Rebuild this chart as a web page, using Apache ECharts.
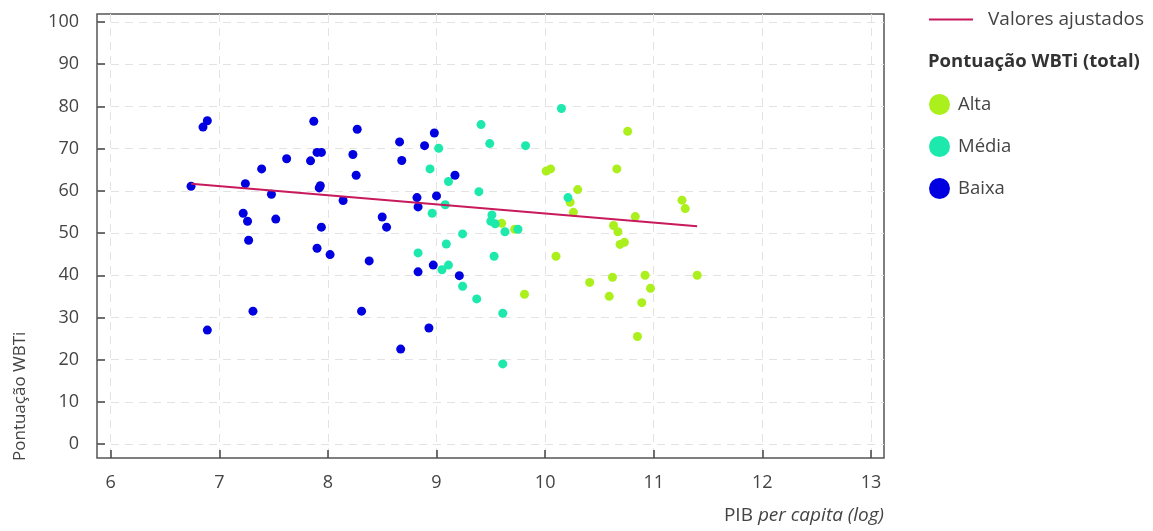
<!DOCTYPE html>
<html>
<head>
<meta charset="utf-8">
<title>Pontuação WBTi vs PIB per capita</title>
<script src="https://cdn.jsdelivr.net/npm/echarts@6/dist/echarts.min.js"></script>
<style>
  html, body { margin: 0; padding: 0; background: #fff; }
  #main { width: 1153px; height: 531px; }
</style>
</head>
<body>
<div id="main"></div>
<script type="text/javascript">
// eixos
var xTicks = [6, 7, 8, 9, 10, 11, 12, 13];
var yTicks = [0, 10, 20, 30, 40, 50, 60, 70, 80, 90, 100];

// pontos [PIB per capita (log), pontuação]
var alta = [
    [10.01, 64.7], [10.05, 65.2], [9.60, 52.3], [9.72, 50.9], [10.10, 44.5], [9.81, 35.5],
    [10.76, 74.1], [10.66, 65.2], [10.30, 60.3], [10.23, 57.3], [11.26, 57.8], [11.29, 55.8],
    [10.26, 54.9], [10.83, 53.9], [10.63, 51.8], [10.67, 50.3], [10.69, 47.3], [10.73, 47.8],
    [10.41, 38.3], [10.62, 39.5], [10.92, 40.0], [11.40, 40.0], [10.97, 36.9], [10.59, 35.0],
    [10.89, 33.5], [10.85, 25.5]
];
var media = [
    [9.41, 75.7], [9.02, 70.1], [9.49, 71.2], [9.82, 70.7], [10.15, 79.5], [8.94, 65.2],
    [9.11, 62.2], [9.39, 59.8], [9.08, 56.7], [8.96, 54.7], [9.51, 54.3], [9.50, 52.8],
    [9.54, 52.2], [9.63, 50.3], [9.75, 50.9], [9.24, 49.8], [9.09, 47.4], [8.83, 45.3],
    [9.53, 44.5], [9.05, 41.3], [9.11, 42.4], [9.24, 37.4], [9.37, 34.4], [9.61, 31.0],
    [9.61, 19.0], [10.21, 58.4]
];
var baixa = [
    [6.89, 76.6], [6.85, 75.1], [7.87, 76.5], [8.27, 74.6], [7.90, 69.1], [7.94, 69.1],
    [8.23, 68.6], [7.62, 67.6], [7.84, 67.1], [7.39, 65.2], [8.26, 63.7], [6.74, 61.1],
    [7.24, 61.7], [7.93, 61.2], [7.92, 60.7], [7.48, 59.2], [8.14, 57.7], [7.22, 54.7],
    [7.26, 52.8], [7.52, 53.3], [7.94, 51.4], [7.27, 48.3], [7.90, 46.4], [8.02, 44.9],
    [8.38, 43.4], [6.89, 27.0], [7.31, 31.5], [8.31, 31.5], [8.98, 73.7], [8.66, 71.6],
    [8.89, 70.7], [8.68, 67.2], [9.17, 63.7], [8.82, 58.4], [9.00, 58.8], [8.83, 56.2],
    [8.50, 53.8], [8.54, 51.4], [8.83, 40.8], [8.97, 42.4], [9.21, 39.9], [8.93, 27.5],
    [8.67, 22.5]
];
// valores ajustados (reta)
var ajustados = [[6.74, 61.7], [11.40, 51.6]];

var font = 'Open Sans';
var myChart = echarts.init(document.getElementById('main'));

var dotSeries = function (name, data, color) {
    return {
        name: name,
        type: 'scatter',
        data: data,
        symbolSize: 9,
        itemStyle: { color: color, opacity: 1 },
        z: 3
    };
};

var option = {
    animation: false,
    textStyle: { fontFamily: font },
    grid: {
        left: 97, right: 269, top: 14, bottom: 73,
        show: true,
        borderColor: '#555',
        borderWidth: 1.5,
        backgroundColor: 'transparent'
    },
    xAxis: {
        type: 'value',
        min: 5.874, max: 13.12,
        axisLine: { show: false, onZero: false },
        axisTick: { show: true, inside: true, length: 8, customValues: xTicks,
            lineStyle: { color: '#444', width: 1.5 } },
        axisLabel: { customValues: xTicks, margin: 16, color: '#444', fontSize: 18, fontFamily: font },
        splitLine: { show: true, lineStyle: { color: '#e3e3e3', type: [8, 6], width: 1 } }
    },
    yAxis: {
        type: 'value',
        min: -3.3, max: 101.9,
        axisLine: { show: false, onZero: false },
        axisTick: { show: true, inside: true, length: 8, customValues: yTicks,
            lineStyle: { color: '#444', width: 1.5 } },
        axisLabel: { customValues: yTicks, margin: 18, color: '#444', fontSize: 18, fontFamily: font },
        splitLine: { show: true, lineStyle: { color: '#e3e3e3', type: [8, 6], width: 1 } }
    },
    title: {
        text: 'Pontuação WBTi (total)',
        left: 928, top: 52,
        padding: 0,
        textStyle: { fontFamily: font, fontSize: 18.5, fontWeight: 'bold', color: '#333' }
    },
    legend: [{
        data: ['Valores ajustados'],
        left: 929, top: 10,
        padding: 0,
        icon: 'rect',
        itemWidth: 44, itemHeight: 2,
        selectedMode: false,
        textStyle: { fontFamily: font, fontSize: 19, color: '#444', padding: [0, 0, 0, 10] }
    }, {
        data: ['Alta', 'Média', 'Baixa'],
        orient: 'vertical',
        left: 929, top: 94,
        padding: 0,
        icon: 'circle',
        itemWidth: 21, itemHeight: 21,
        itemGap: 21,
        selectedMode: false,
        textStyle: { fontFamily: font, fontSize: 18.5, color: '#444', padding: [0, 0, 0, 3] }
    }],
    graphic: [{
        type: 'text',
        x: 20, y: 461,
        rotation: Math.PI / 2,
        style: {
            text: 'Pontuação WBTi',
            font: '17px "Open Sans"',
            fill: '#444',
            textAlign: 'left',
            textVerticalAlign: 'middle'
        }
    }, {
        type: 'text',
        x: 884, y: 516,
        style: {
            text: '{n|PIB }{i|per capita (log)}',
            textAlign: 'right',
            textVerticalAlign: 'middle',
            rich: {
                n: { fontFamily: font, fontSize: 19, fill: '#444', color: '#444' },
                i: { fontFamily: font, fontSize: 19, fontStyle: 'italic', fill: '#444', color: '#444' }
            }
        }
    }],
    series: [
        {
            name: 'Valores ajustados',
            type: 'line',
            data: ajustados,
            symbol: 'none',
            lineStyle: { color: '#c8195c', width: 2 },
            itemStyle: { color: '#c8195c' },
            z: 4
        },
        dotSeries('Alta', alta, '#abf01c'),
        dotSeries('Média', media, '#1de9ad'),
        dotSeries('Baixa', baixa, '#0000e0')
    ]
};

myChart.setOption(option);
</script>
</body>
</html>
